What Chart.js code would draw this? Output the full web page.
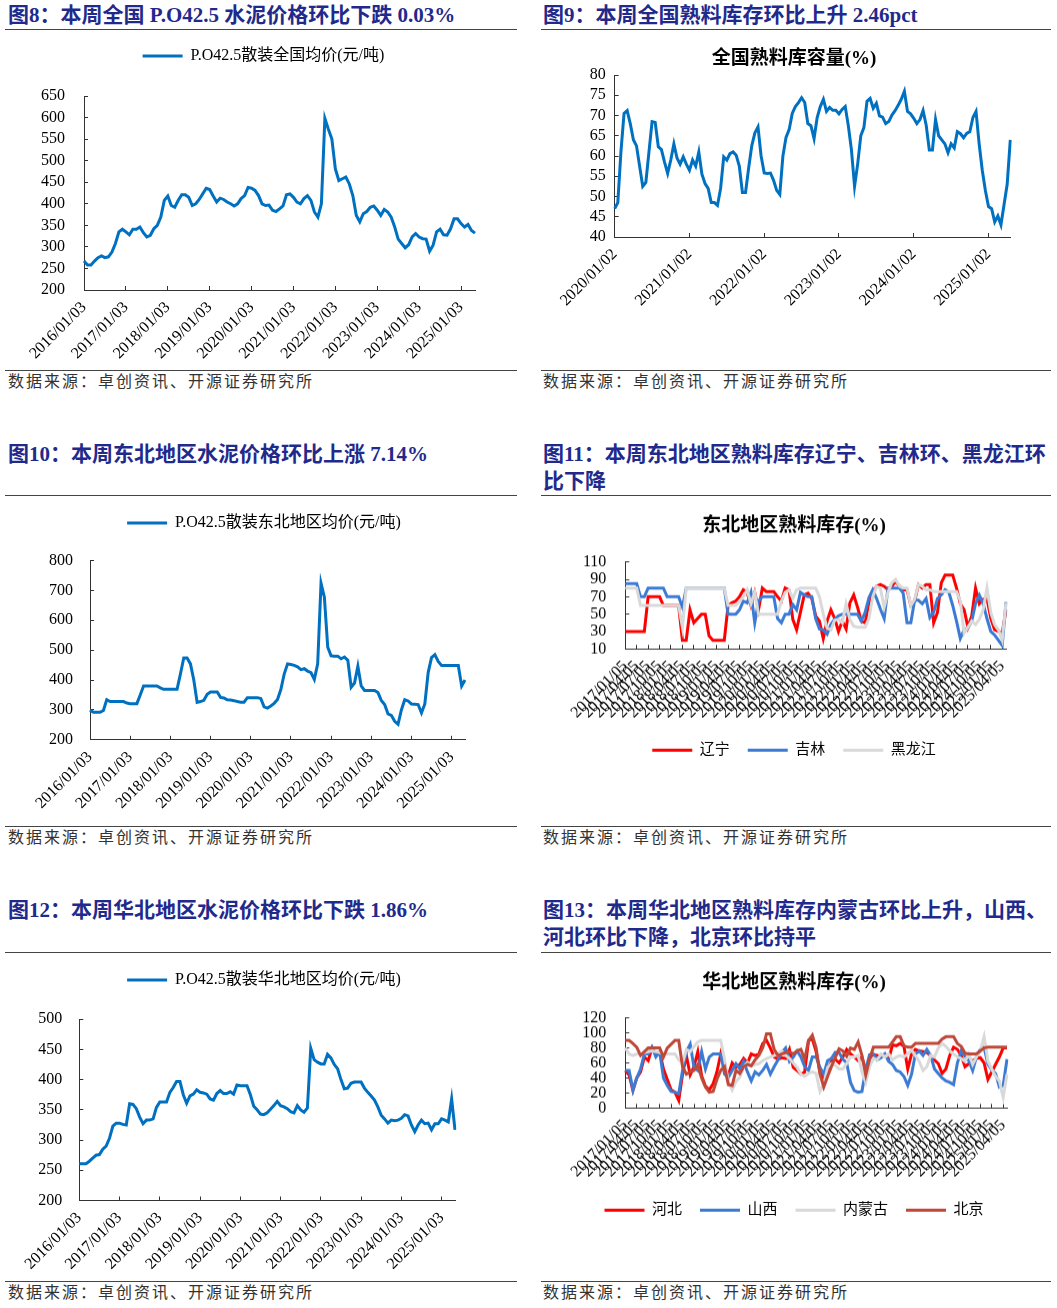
<!DOCTYPE html>
<html>
<head>
<meta charset="utf-8">
<script src="https://cdn.jsdelivr.net/npm/chart.js@4.4.1/dist/chart.umd.min.js"></script>
<style>
  body { margin: 0; background: #fff; }
  #page { position: relative; width: 1057px; height: 1308px; overflow: hidden; font-family: "Liberation Serif", "Noto Sans CJK SC", serif; }
  .ttl { position: absolute; font-size: 21px; font-weight: bold; color: #1f2a8c; line-height: 27px; white-space: nowrap; }
  .rule { position: absolute; height: 0; border-top: 1px solid #444; }
  .src { position: absolute; font-size: 16px; color: #333; letter-spacing: 2px; line-height: 22px; white-space: nowrap; }
  .box { position: absolute; }
</style>
</head>
<body>
<div id="page">
  <div class="ttl" style="left:8px;top:2px">图8：本周全国 P.O42.5 水泥价格环比下跌 0.03%</div>
  <div class="ttl" style="left:543px;top:2px">图9：本周全国熟料库存环比上升 2.46pct</div>
  <div class="rule" style="left:5px;top:29px;width:512px"></div>
  <div class="rule" style="left:541px;top:29px;width:510px"></div>

  <div class="rule" style="left:5px;top:370px;width:512px"></div>
  <div class="rule" style="left:541px;top:370px;width:510px"></div>
  <div class="src" style="left:8px;top:371px">数据来源：卓创资讯、开源证券研究所</div>
  <div class="src" style="left:543px;top:371px">数据来源：卓创资讯、开源证券研究所</div>

  <div class="ttl" style="left:8px;top:441px">图10：本周东北地区水泥价格环比上涨 7.14%</div>
  <div class="ttl" style="left:543px;top:441px">图11：本周东北地区熟料库存辽宁、吉林环、黑龙江环<br>比下降</div>
  <div class="rule" style="left:5px;top:495px;width:512px"></div>
  <div class="rule" style="left:541px;top:495px;width:510px"></div>

  <div class="rule" style="left:5px;top:826px;width:512px"></div>
  <div class="rule" style="left:541px;top:826px;width:510px"></div>
  <div class="src" style="left:8px;top:827px">数据来源：卓创资讯、开源证券研究所</div>
  <div class="src" style="left:543px;top:827px">数据来源：卓创资讯、开源证券研究所</div>

  <div class="ttl" style="left:8px;top:897px">图12：本周华北地区水泥价格环比下跌 1.86%</div>
  <div class="ttl" style="left:543px;top:897px">图13：本周华北地区熟料库存内蒙古环比上升，山西、<br>河北环比下降，北京环比持平</div>
  <div class="rule" style="left:5px;top:952px;width:512px"></div>
  <div class="rule" style="left:541px;top:952px;width:510px"></div>

  <div class="rule" style="left:5px;top:1281px;width:512px"></div>
  <div class="rule" style="left:541px;top:1281px;width:510px"></div>
  <div class="src" style="left:8px;top:1282px">数据来源：卓创资讯、开源证券研究所</div>
  <div class="src" style="left:543px;top:1282px">数据来源：卓创资讯、开源证券研究所</div>

  <div class="box" style="left:0px;top:38px;width:527px;height:332px"><canvas id="c8"></canvas></div>
  <div class="box" style="left:543px;top:36px;width:502px;height:281px"><canvas id="c9"></canvas></div>
  <div class="box" style="left:0px;top:504.5px;width:528px;height:314.8px"><canvas id="c10"></canvas></div>
  <div class="box" style="left:543px;top:490px;width:502px;height:276.8px"><canvas id="c11"></canvas></div>
  <div class="box" style="left:0px;top:961.5px;width:528px;height:316.5px"><canvas id="c12"></canvas></div>
  <div class="box" style="left:543px;top:947px;width:502px;height:279.8px"><canvas id="c13"></canvas></div>
</div>

<script>
// monthly price, 2016/01 .. 2025/05 (yuan/ton)
const nationalPrice = [
  267, 258, 258, 267, 275, 279, 275, 277, 288, 308, 335, 341,
  335, 328, 341, 341, 346, 333, 323, 327, 342, 350, 369, 408,
  418, 396, 392, 408, 421, 421, 415, 396, 400, 410, 423, 436,
  433, 418, 404, 413, 410, 404, 400, 395, 400, 412, 419, 438,
  436, 431, 419, 400, 396, 397, 385, 382, 388, 395, 421, 423,
  415, 404, 400, 412, 419, 408, 381, 369, 400, 598, 573, 550,
  481, 454, 458, 462, 446, 419, 373, 358, 377, 382, 392, 395,
  385, 373, 387, 381, 369, 346, 318, 308, 298, 305, 323, 331,
  323, 319, 318, 290, 304, 335, 341, 328, 327, 342, 365, 365,
  354, 346, 352, 338, 332
];
const northeastPrice = [
  300, 292, 292, 292, 298, 334, 328, 328, 328, 328, 328, 323,
  321, 321, 321, 350, 380, 380, 380, 380, 380, 374, 369, 369,
  369, 369, 369, 420, 474, 474, 454, 400, 325, 328, 332, 352,
  360, 360, 360, 342, 340, 334, 333, 331, 328, 326, 326, 341,
  341, 341, 341, 338, 310, 306, 313, 322, 335, 368, 420, 454,
  452, 449, 444, 435, 438, 430, 425, 402, 454, 724, 677, 510,
  481, 480, 480, 471, 477, 466, 376, 390, 446, 380, 365, 365,
  365, 365, 358, 332, 318, 287, 282, 262, 252, 300, 334, 330,
  320, 319, 318, 290, 320, 425, 475, 485, 462, 449, 449, 449,
  449, 449, 449, 380, 400
];
const northChinaPrice = [
  261, 261, 261, 265, 270, 275, 276, 285, 290, 303, 323, 328,
  328, 326, 325, 360, 359, 352, 338, 327, 333, 333, 335, 354,
  363, 363, 363, 379, 387, 397, 397, 375, 361, 373, 376, 383,
  379, 378, 376, 368, 366, 377, 382, 377, 377, 380, 376, 391,
  390, 390, 390, 375, 356, 350, 343, 342, 345, 351, 357, 364,
  357, 355, 352, 347, 345, 357, 350, 346, 353, 452, 433, 429,
  426, 426, 442, 436, 425, 418, 400, 385, 386, 394, 396, 396,
  396, 386, 379, 373, 366, 355, 341, 335, 328, 333, 332, 333,
  336, 342, 340, 325, 314, 325, 333, 327, 328, 317, 327, 327,
  335, 333, 330, 368, 317
];
const priceTicks = ['2016/01/03', '2017/01/03', '2018/01/03', '2019/01/03', '2020/01/03',
  '2021/01/03', '2022/01/03', '2023/01/03', '2024/01/03', '2025/01/03'];

// half-monthly national clinker inventory ratio, 2020/01 .. 2025/04 (%)
const clinkerNational = [
  47, 48.5, 61, 70.5, 71.2, 68, 64, 62.5, 57.5, 52.5, 53.5, 61,
  68.5, 68.3, 62.3, 61.6, 58.5, 55.7, 59, 63, 59.5, 58, 59.8, 58,
  56.5, 59, 57.5, 61, 55.5, 53.2, 52, 48.5, 48.5, 47.8, 52, 59.8,
  59, 60.6, 61, 60.2, 57.5, 51, 51, 57, 62.5, 65.7, 67.2, 60,
  55.8, 55.7, 55.8, 54, 51.5, 50.5, 60, 64.6, 66.5, 70.5, 72.2, 73.2,
  74.4, 73.2, 68, 67.5, 64.3, 69.5, 72.2, 74, 71, 72, 71.3, 71.3,
  70.4, 71.5, 72.2, 67.5, 61.5, 52.5, 58, 65, 67, 73.5, 74.2, 71.8,
  73, 69.9, 69.6, 68, 68.5, 70.1, 71.2, 72.5, 74, 76, 71, 70.4,
  69.3, 68, 69, 71.2, 67.6, 61.5, 61.5, 69, 65, 64, 63, 60.8,
  63, 62, 66, 65.5, 64.5, 65.6, 66, 69.5, 71, 63, 56.5, 51.5,
  47.5, 47, 43.7, 45.2, 43, 48, 53, 64
];
const clinkerTicks = ['2020/01/02', '2021/01/02', '2022/01/02', '2023/01/02', '2024/01/02', '2025/01/02'];

// monthly regional clinker inventory, 2017/01 .. 2025/05 (%)
const liaoning = [
  30, 30, 30, 30, 30, 30, 70, 70, 70, 70, 60, 60,
  60, 60, 60, 20, 20, 55, 40, 45, 50, 50, 25, 20,
  20, 20, 20, 60, 63, 65, 70, 78, 75, 60, 75, 55,
  80, 76, 76, 76, 70, 65, 80, 78, 44, 32, 52, 72,
  74, 68, 48, 42, 22, 42, 55, 45, 30, 42, 33, 63,
  72, 58, 42, 40, 63, 73, 82, 84, 82, 78, 82, 88,
  82, 78, 78, 60, 65, 84, 80, 84, 84, 40, 52, 86,
  95, 95, 95, 80, 62, 55, 35, 48, 80, 62, 67, 68,
  45, 32, 30, 28, 55
];
const jilin = [
  85, 85, 85, 85, 70, 70, 80, 80, 80, 80, 80, 70,
  70, 70, 70, 58, 80, 80, 80, 80, 80, 80, 80, 80,
  80, 80, 80, 50, 50, 50, 55, 65, 63, 75, 40, 65,
  70, 70, 70, 70, 45, 40, 50, 50, 61, 55, 75, 72,
  70, 70, 45, 33, 32, 27, 38, 44, 48, 50, 50, 50,
  50, 50, 42, 52, 69, 78, 68, 56, 45, 80, 80, 80,
  80, 74, 40, 40, 66, 66, 62, 68, 46, 52, 68, 72,
  78, 75, 60, 42, 22, 32, 34, 42, 62, 72, 62, 45,
  30, 26, 20, 14, 64
];
const heilongjiang = [
  80, 80, 80, 80, 60, 60, 60, 60, 60, 60, 60, 60,
  60, 60, 60, 35, 80, 80, 80, 80, 80, 80, 80, 80,
  80, 80, 80, 60, 60, 60, 65, 70, 78, 62, 75, 50,
  50, 50, 50, 50, 50, 65, 75, 78, 68, 78, 80, 80,
  80, 80, 80, 70, 50, 34, 32, 43, 44, 40, 62, 44,
  36, 35, 35, 35, 45, 70, 82, 80, 58, 75, 86, 90,
  82, 80, 80, 60, 67, 84, 82, 78, 78, 76, 76, 76,
  76, 76, 76, 76, 65, 28, 35, 42, 38, 44, 55, 80,
  52, 38, 32, 20, 63
];
const hebei = [
  50, 44, 23, 40, 48, 68, 63, 80, 72, 75, 52, 38,
  24, 21, 10, 45, 70, 44, 55, 75, 43, 29, 24, 32,
  48, 72, 52, 44, 60, 54, 58, 66, 60, 72, 70, 72,
  86, 90, 80, 68, 65, 67, 66, 78, 54, 50, 45, 48,
  90, 92, 75, 48, 36, 50, 62, 65, 60, 68, 78, 72,
  68, 63, 68, 50, 66, 71, 70, 68, 72, 65, 84, 83,
  86, 82, 52, 72, 78, 76, 75, 74, 70, 64, 59, 46,
  52, 70, 81, 78, 70, 55, 59, 63, 66, 67, 60, 38,
  48, 58, 68, 80, 80
];
const shanxi = [
  50, 50, 24, 40, 52, 72, 72, 81, 68, 75, 40, 30,
  22, 21, 19, 50, 75, 85, 54, 50, 75, 52, 68, 72,
  72, 72, 45, 41, 50, 59, 52, 62, 48, 36, 48, 44,
  50, 58, 45, 55, 64, 74, 80, 62, 68, 76, 68, 55,
  50, 68, 68, 54, 45, 63, 66, 74, 74, 65, 60, 34,
  23, 21, 22, 52, 71, 72, 64, 67, 72, 62, 58, 50,
  48, 42, 30, 45, 72, 76, 70, 78, 70, 52, 46, 40,
  36, 34, 31, 60, 76, 69, 63, 50, 68, 78, 81, 58,
  51, 46, 28, 30, 65
];
const neimenggu = [
  80, 72, 70, 72, 72, 74, 75, 76, 75, 74, 72, 72,
  72, 72, 64, 60, 78, 75, 82, 88, 90, 90, 90, 90,
  90, 90, 65, 35, 24, 35, 41, 54, 61, 56, 58, 59,
  63, 66, 68, 70, 72, 76, 70, 66, 60, 54, 45, 42,
  46, 48, 46, 22, 32, 54, 59, 57, 52, 52, 59, 68,
  68, 70, 48, 34, 55, 66, 64, 72, 68, 72, 64, 68,
  70, 68, 72, 77, 70, 62, 50, 55, 70, 68, 80, 86,
  82, 76, 72, 68, 66, 62, 72, 58, 68, 76, 95, 62,
  52, 42, 36, 14, 45
];
const beijing = [
  90, 90, 86, 81, 70, 75, 80, 80, 80, 80, 68, 80,
  85, 90, 90, 55, 45, 48, 50, 58, 40, 28, 21, 22,
  38, 50, 55, 31, 30, 50, 46, 55, 58, 56, 64, 70,
  80, 99, 99, 78, 70, 72, 74, 75, 72, 76, 78, 65,
  90, 97, 80, 45, 28, 42, 55, 67, 79, 76, 69, 80,
  78, 88, 70, 44, 65, 81, 81, 81, 81, 81, 88, 95,
  95, 83, 81, 81, 86, 86, 86, 86, 86, 86, 86, 92,
  95, 95, 95, 86, 82, 73, 72, 72, 72, 76, 80, 81,
  81, 81, 81, 81, 81
];
const quarterMonths = ['01', '04', '07', '10'];

const serif = '"Liberation Serif", "Noto Sans CJK SC", serif';
const axisColor = '#333';

function monthLabels(year, count, day) {
  const out = [];
  for (let k = 0; k < count; k++) {
    out.push((year + Math.floor(k / 12)) + '/' + String(k % 12 + 1).padStart(2, '0') + '/' + day);
  }
  return out;
}
function halfMonthLabels(year, count) {
  const out = [];
  for (let k = 0; k < count; k++) {
    const m = Math.floor(k / 2);
    out.push((year + Math.floor(m / 12)) + '/' + String(m % 12 + 1).padStart(2, '0') + (k % 2 ? '/17' : '/02'));
  }
  return out;
}

// legend box gets extra room below it
const legendGap = {
  id: 'legendGap',
  beforeInit(chart, args, opts) {
    const legend = chart.legend;
    if (!legend || !opts.gap) return;
    const fit = legend.fit;
    legend.fit = function () { fit.call(legend); legend.height += opts.gap; };
  }
};

function xScale(show, height, size) {
  return {
    type: 'category',
    offset: false,
    grid: { drawOnChartArea: false, tickLength: -4, color: axisColor },
    border: { color: axisColor, width: 1 },
    ticks: {
      autoSkip: false, minRotation: 45, maxRotation: 45, padding: 12,
      color: '#000', font: { family: serif, size: size },
      callback: function (value) {
        const label = this.getLabelForValue(value);
        return show(label) ? label : null;
      }
    },
    afterFit: (s) => { s.height = height; }
  };
}
function yScale(min, max, step, width, pad) {
  return {
    min: min, max: max,
    grid: { drawOnChartArea: false, tickLength: -4, color: axisColor },
    border: { color: axisColor, width: 1 },
    ticks: { stepSize: step, autoSkip: false, padding: pad, color: '#000', font: { family: serif, size: 16 } },
    afterFit: (s) => { s.width = width; }
  };
}
// empty right-hand spacer so the legend/title stays centred like the original
function spacer(width) {
  return {
    type: 'linear', position: 'right', display: true,
    ticks: { display: false }, grid: { display: false }, border: { display: false },
    afterFit: (s) => { s.width = width; }
  };
}
function lineSet(label, data, color, order) {
  return { label: label, data: data, borderColor: color, backgroundColor: color, borderWidth: 3,
    pointRadius: 0, tension: 0, fill: false, order: order || 0, yAxisID: 'y' };
}
function topLegend() {
  return {
    display: true, position: 'top',
    labels: { usePointStyle: true, pointStyle: 'line', pointStyleWidth: 40, padding: 10,
      color: '#000', font: { family: serif, size: 16 } }
  };
}
function bottomLegend() {
  return {
    display: true, position: 'bottom',
    labels: { usePointStyle: true, pointStyle: 'line', pointStyleWidth: 40, padding: 18,
      color: '#000', font: { family: serif, size: 15 },
      sort: (a, b) => a.datasetIndex - b.datasetIndex }
  };
}
function titleOpt(text, top, bottom) {
  return { display: true, text: text, color: '#000', font: { family: serif, size: 19, weight: 'bold' },
    padding: { top: top, bottom: bottom } };
}
function draw(id, labels, datasets, scales, plugins) {
  new Chart(document.getElementById(id), {
    type: 'line',
    data: { labels: labels, datasets: datasets },
    options: {
      responsive: true, maintainAspectRatio: false, animation: false,
      layout: { padding: 0 },
      scales: scales,
      plugins: Object.assign({ tooltip: { enabled: false } }, plugins)
    },
    plugins: [legendGap]
  });
}

const isYearTick = (l) => priceTicks.includes(l);
const isQuarter = (l) => quarterMonths.includes(l.slice(5, 7));

// 图8
draw('c8', monthLabels(2016, nationalPrice.length, '03'),
  [lineSet('P.O42.5散装全国均价(元/吨)', nationalPrice, '#0070C0')],
  { x: xScale(isYearTick, 80, 16), y: yScale(200, 650, 50, 84, 23), pad: spacer(52) },
  { legend: topLegend(), legendGap: { gap: 22 } });

// 图9
draw('c9', halfMonthLabels(2020, clinkerNational.length),
  [lineSet('全国熟料库容量(%)', clinkerNational, '#0070C0')],
  { x: xScale((l) => clinkerTicks.includes(l), 80, 16), y: yScale(40, 80, 5, 71.7, 13), pad: spacer(34.7) },
  { legend: { display: false }, title: titleOpt('全国熟料库容量(%)', 11.6, 4.6) });

// 图10
draw('c10', monthLabels(2016, northeastPrice.length, '03'),
  [lineSet('P.O42.5散装东北地区均价(元/吨)', northeastPrice, '#0070C0')],
  { x: xScale(isYearTick, 80, 16), y: yScale(200, 800, 100, 90, 21), pad: spacer(63) },
  { legend: topLegend(), legendGap: { gap: 19.5 } });

// 图11
draw('c11', monthLabels(2017, liaoning.length, '05'),
  [lineSet('辽宁', liaoning, '#FF0000', 3), lineSet('吉林', jilin, '#3C7BD4', 2), lineSet('黑龙江', heilongjiang, '#D9D9D9', 1)],
  { x: xScale(isQuarter, 75.5, 16), y: yScale(10, 110, 20, 82.3, 23), pad: spacer(39) },
  { legend: bottomLegend(), title: titleOpt('东北地区熟料库存(%)', 24.6, 24.3) });

// 图12
draw('c12', monthLabels(2016, northChinaPrice.length, '03'),
  [lineSet('P.O42.5散装华北地区均价(元/吨)', northChinaPrice, '#0070C0')],
  { x: xScale(isYearTick, 78, 16), y: yScale(200, 500, 50, 79.3, 21), pad: spacer(73) },
  { legend: topLegend(), legendGap: { gap: 21.2 } });

// 图13
draw('c13', monthLabels(2017, hebei.length, '05'),
  [lineSet('河北', hebei, '#FF0000', 4), lineSet('山西', shanxi, '#3C7BD4', 3),
   lineSet('内蒙古', neimenggu, '#D9D9D9', 2), lineSet('北京', beijing, '#C04838', 1)],
  { x: xScale(isQuarter, 76.5, 16), y: yScale(0, 120, 20, 82.3, 23), pad: spacer(38) },
  { legend: bottomLegend(), title: titleOpt('华北地区熟料库存(%)', 24.3, 23.6) });
</script>
</body>
</html>
